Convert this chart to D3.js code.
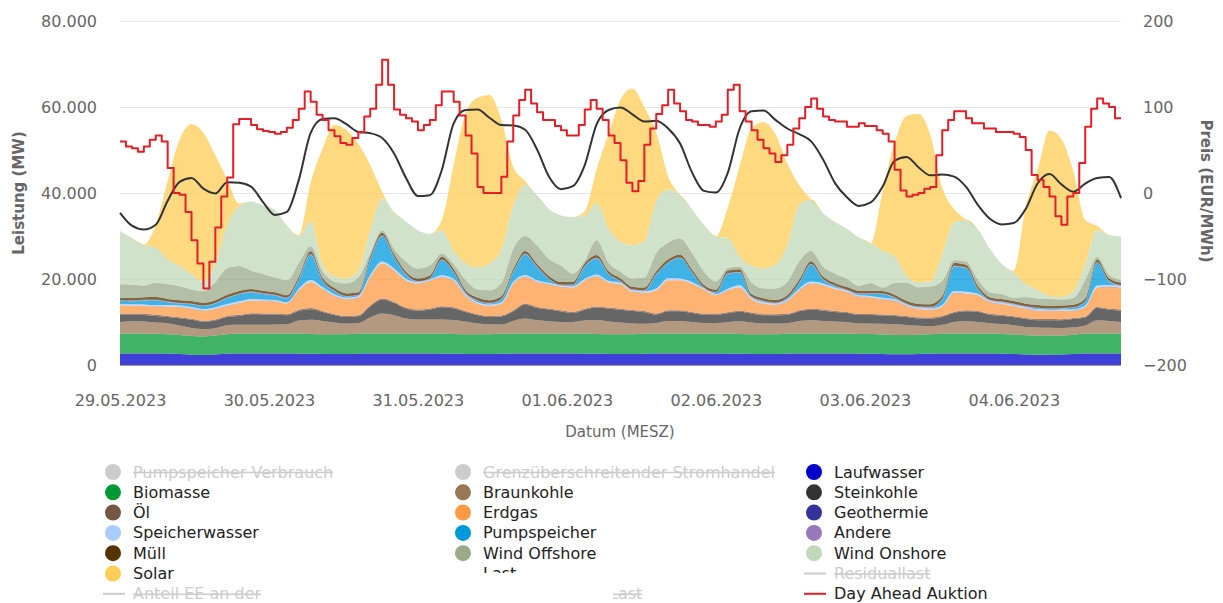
<!DOCTYPE html>
<html>
<head>
<meta charset="utf-8">
<script src="https://cdn.jsdelivr.net/npm/d3@7"></script>
<style>
body{margin:0;background:#fff;}
</style>
</head>
<body>
<div id="chart"></div>
<script>
// Stromerzeugung und Day-Ahead-Preis, 29.05.2023 - 04.06.2023
// areas: 2 h samples (one row = one day, last value = 05.06 00:00)

var laufwasser=[
 2700,2700,2650,2650,2600,2550,2400,2350,2450,2600,2650,2650,
 2650,2650,2650,2600,2600,2550,2550,2550,2600,2650,2650,2650,
 2650,2650,2650,2600,2600,2550,2550,2550,2600,2650,2650,2650,
 2650,2650,2650,2600,2600,2550,2550,2550,2600,2650,2650,2650,
 2650,2650,2650,2600,2600,2550,2550,2550,2600,2650,2650,2650,
 2650,2650,2600,2600,2550,2500,2500,2550,2600,2650,2650,2650,
 2650,2650,2600,2550,2450,2400,2400,2450,2550,2650,2650,2650,
 2650];
var biomasse=[
 4600,4600,4600,4600,4550,4450,4350,4300,4400,4550,4600,4600,
 4600,4650,4650,4650,4600,4600,4600,4600,4650,4650,4650,4650,
 4650,4650,4650,4650,4600,4600,4600,4600,4650,4650,4650,4650,
 4650,4650,4650,4650,4600,4600,4600,4600,4650,4650,4650,4650,
 4650,4650,4650,4650,4600,4600,4600,4600,4650,4650,4650,4650,
 4650,4650,4600,4600,4550,4500,4500,4500,4550,4600,4650,4650,
 4650,4600,4600,4550,4450,4400,4400,4400,4500,4600,4650,4650,
 4650];
var braunkohle=[
 2710,2870,2870,2640,2560,2170,1860,1710,1710,2090,2090,2090,
 2090,2090,2170,3100,3330,3100,2710,2480,2480,3800,4650,4260,
 3490,3260,3260,3330,3260,2950,2480,2330,2170,2950,3490,3100,
 2900,2710,2710,3100,3260,2950,2710,2480,2330,2480,2950,2950,
 2710,2480,2480,2710,2950,2710,2480,2480,2480,2950,3100,2950,
 2800,2710,2480,2480,2480,2480,2330,2090,1860,2090,2710,2950,
 2710,2480,2330,2170,1940,1940,1860,1710,1710,1940,3100,2950,
 2710];
var steinkohle=[
 1690,1530,1530,1530,1460,1690,1920,1690,1770,1920,2080,2460,
 2400,2310,2080,2230,2460,2080,1690,1530,1600,2500,3240,2850,
 2310,2080,2310,2850,2700,2230,1920,1690,1840,2230,3240,2850,
 2700,2460,2080,2460,2900,3000,3000,2900,2700,1920,2230,2230,
 2080,1920,1920,2080,2230,2080,1920,1920,1920,2230,2460,2390,
 2200,2080,1920,1920,1920,1920,1840,1690,1770,1840,2080,2230,
 2310,1920,1920,1840,1840,1690,1770,1840,1920,1840,2850,2620,
 2620];
var oel=[
 250,250,250,250,250,250,250,250,250,250,250,250,
 250,250,250,250,250,250,250,250,250,250,250,250,
 250,250,250,250,250,250,250,250,250,250,250,250,
 250,250,250,250,250,250,250,250,250,250,250,250,
 250,250,250,250,250,250,250,250,250,250,250,250,
 250,250,250,250,250,250,250,250,250,250,250,250,
 250,250,250,250,250,250,250,250,250,250,250,250,
 250];
var erdgas=[
 1940,1860,1860,1940,2170,2330,2330,2330,2480,2330,2710,2950,
 2900,2870,2480,4500,6050,5120,4260,3880,4030,6590,8140,7370,
 6360,6050,6430,6750,6200,3490,2480,2330,2710,6200,6200,5810,
 5600,5430,5660,6590,6980,5810,5660,4260,4260,5430,6980,6980,
 6590,5580,4260,5040,5430,3100,2480,2170,2950,4650,5810,5660,
 5100,4650,4030,3880,3490,3260,2330,1940,1860,2170,4420,3880,
 3640,2710,2480,2330,2170,1940,1860,1940,1710,2170,4500,5040,
 5120];
var geothermie=[
 25,25,25,25,25,25,25,25,25,25,25,25,
 25,25,25,25,25,25,25,25,25,25,25,25,
 25,25,25,25,25,25,25,25,25,25,25,25,
 25,25,25,25,25,25,25,25,25,25,25,25,
 25,25,25,25,25,25,25,25,25,25,25,25,
 25,25,25,25,25,25,25,25,25,25,25,25,
 25,25,25,25,25,25,25,25,25,25,25,25,
 25];
var speicherwasser=[
 300,300,300,300,350,350,350,350,350,400,400,350,
 300,300,300,400,450,400,350,350,350,450,450,400,
 350,300,300,400,400,350,300,300,350,400,450,400,
 350,300,300,400,450,400,350,300,350,400,450,400,
 350,300,300,400,450,350,300,300,350,400,450,400,
 350,300,300,300,350,350,300,300,300,350,400,400,
 350,300,300,300,300,300,300,300,300,350,450,400,
 350];
var pumpspeicher=[
 700,700,940,1100,630,480,630,700,860,1400,1640,1560,
 1300,1020,860,2030,5900,1400,700,240,170,3580,5900,2650,
 860,90,170,3500,1500,240,320,240,630,2180,4740,3030,
 800,50,240,2800,3700,1500,240,90,90,3190,3580,4740,
 2180,50,240,3420,2960,90,170,50,240,1250,3960,860,
 300,50,320,480,860,320,90,90,170,1250,5750,5510,
 1020,90,90,90,90,240,170,170,320,860,5280,860,
 50];
var andere=[
 150,150,150,150,150,150,150,150,150,150,150,150,
 150,150,150,150,150,150,150,150,150,150,150,150,
 150,150,150,150,150,150,150,150,150,150,150,150,
 150,150,150,150,150,150,150,150,150,150,150,150,
 150,150,150,150,150,150,150,150,150,150,150,150,
 150,150,150,150,150,150,150,150,150,150,150,150,
 150,150,150,150,150,150,150,150,150,150,150,150,
 150];
var muell=[
 600,600,600,600,600,600,600,600,600,600,600,600,
 600,600,600,650,650,600,600,600,600,650,650,600,
 600,600,600,650,650,600,600,600,600,650,650,600,
 600,600,600,650,650,600,600,600,600,650,650,600,
 600,600,600,650,650,600,600,600,600,650,650,600,
 600,600,600,600,600,600,600,600,600,650,650,600,
 600,600,600,600,600,600,600,600,600,650,650,600,
 600];
var windOffshore=[
 3100,3100,2710,3330,3490,3260,2710,2710,4260,6200,5810,4260,
 3900,3490,3490,3100,1160,1550,1550,2330,3490,780,600,1160,
 2330,2330,2330,780,1160,2330,1940,2330,3100,4650,3490,4260,
 4000,3880,1940,600,3490,1940,1550,1940,2330,4260,3880,3880,
 3880,3100,1940,600,600,2710,2330,2710,3100,4260,2330,2330,
 2200,1940,1160,1780,780,2710,4260,3880,4110,3490,600,780,
 1550,1160,1160,780,1550,1550,1550,1400,1550,4260,600,780,
 600];
var windOnshore=[
 12400,10850,9460,8140,5810,4650,3490,2330,4260,10080,13960,16050,
 16000,15660,12790,6200,5810,1550,1160,1160,1550,5430,7370,8530,
 9300,8920,7370,5430,3100,3880,5040,6200,7750,10080,12020,11630,
 11600,11630,13180,10470,8500,8000,6980,7750,8530,12020,12400,10080,
 10080,10850,10470,6980,2330,3880,4650,5430,8530,13180,12020,12400,
 12000,11630,11240,9300,8530,6200,1550,1160,1160,6200,8920,9690,
 11630,10080,6980,5810,3100,1940,780,540,1550,3880,6200,9300,
 10080];
var solar=[
 0,0,0,5400,18200,29500,35000,34500,25200,10500,600,0,
 0,0,0,300,9000,27000,35300,34500,29500,15000,1500,0,
 0,0,0,2300,20000,34900,39500,39200,30200,9000,800,0,
 0,0,0,1000,8000,22000,33000,36400,31100,16000,3000,0,
 0,0,0,7000,21000,32000,34000,30500,19000,4500,0,0,
 0,0,0,0,14000,26400,37200,39200,34100,15500,3000,0,
 0,0,0,500,17800,27900,38400,36800,27900,10100,1000,0,
 0];
var last=[
 35400,32400,31500,32600,38200,42600,43500,41000,39900,42500,42400,41500,
 37900,34900,35600,43000,54000,57200,57400,56000,54200,53900,52800,49200,
 43500,39300,39500,45300,56200,59300,59400,57500,55800,55700,54700,50100,
 43800,40900,41600,46500,56000,59300,59900,58300,56600,56800,55000,51500,
 44800,40500,40100,44700,55000,59000,59160,57000,55000,53700,52000,47800,
 42300,39000,37000,37800,41500,47500,48400,46000,44100,44300,43800,41400,
 37200,34000,32700,33000,36300,42200,44400,42000,40300,42200,43500,43700,
 38800];

// Day Ahead Auktion, EUR/MWh, hourly (one row = one day)
var dayAhead=[
 60,54,52,48,54,62,67,60,29,0,-2,-22,-55,-82,-111,-80,-40,-4,18,80,86,86,79,74,
 72,71,69,71,76,85,98,118,106,91,85,73,66,58,56,64,71,89,98,126,155,126,97,91,
 87,83,73,79,85,102,118,118,106,90,67,46,7,0,0,0,19,60,90,108,120,104,94,85,
 85,78,73,67,67,79,97,108,98,85,67,58,38,12,2,14,56,75,92,102,120,104,95,85,
 83,79,79,77,83,91,120,126,95,83,73,62,52,46,36,44,56,75,87,100,110,98,89,85,
 83,83,77,77,81,78,78,73,69,60,27,3,-4,-2,0,5,7,44,73,85,95,95,87,81,
 81,75,75,71,71,71,69,65,50,21,15,7,-4,-27,-37,-4,0,35,77,98,110,104,100,87];

var leftTicks=[0,20000,40000,60000,80000];
var rightTicks=[-200,-100,0,100,200];
var dateTicks=[0,25,50,75,100,125,150]; // hours after 29.05.2023 00:00

var stackKeys=["Laufwasser","Biomasse","Braunkohle","Steinkohle","Öl","Erdgas","Geothermie",
               "Speicherwasser","Pumpspeicher","Andere","Müll","Wind Offshore","Wind Onshore","Solar"];
var stackValues=[laufwasser,biomasse,braunkohle,steinkohle,oel,erdgas,geothermie,
                 speicherwasser,pumpspeicher,andere,muell,windOffshore,windOnshore,solar];
var colors={"Laufwasser":"#0000cc","Biomasse":"#009933","Braunkohle":"#997755","Steinkohle":"#333333",
            "Öl":"#775544","Erdgas":"#ff9944","Geothermie":"#333399","Speicherwasser":"#aaccff",
            "Pumpspeicher":"#0099dd","Andere":"#9977bb","Müll":"#553300","Wind Offshore":"#99aa88",
            "Wind Onshore":"#c0d8b8","Solar":"#ffcc55","Last":"#333333","Day Ahead Auktion":"#e41e26"};

var width=1223, height=603;
var plotLeft=120, plotRight=1121, plotTop=21, plotBottom=365;
var startDate=new Date(2023,4,29,0,0);

var x=d3.scaleLinear().domain([0,168]).range([plotLeft,plotRight]);
var yL=d3.scaleLinear().domain([0,80000]).range([plotBottom,plotTop]);
var yR=d3.scaleLinear().domain([-200,200]).range([plotBottom,plotTop]);

var de=d3.formatLocale({decimal:",",thousands:".",grouping:[3],currency:["","\u00a0€"]});

var svg=d3.select("#chart").append("svg")
    .attr("width",width).attr("height",height)
    .style("font-family","'DejaVu Sans',Verdana,sans-serif");

// grid
svg.append("g").selectAll("line").data(leftTicks.slice(1)).join("line")
    .attr("x1",plotLeft).attr("x2",plotRight)
    .attr("y1",d=>Math.round(yL(d))+0.5).attr("y2",d=>Math.round(yL(d))+0.5)
    .attr("stroke","#e6e6e6").attr("stroke-width",1);

// stacked areas
var rows=d3.range(0,169,2).map(function(h,i){
    var r={h:h};
    stackKeys.forEach(function(k,j){ r[k]=stackValues[j][i]; });
    return r;
});
var series=d3.stack().keys(stackKeys)(rows);
var area=d3.area()
    .x(d=>x(d.data.h))
    .y0(d=>yL(d[0]))
    .y1(d=>yL(d[1]))
    .curve(d3.curveMonotoneX);
svg.append("g").selectAll("path").data(series).join("path")
    .attr("d",area)
    .attr("fill",d=>colors[d.key])
    .attr("fill-opacity",0.75)
    .attr("stroke","none");

// Last
var lastLine=d3.line().x((d,i)=>x(i*2)).y(d=>yL(d)).curve(d3.curveMonotoneX);
svg.append("path").attr("d",lastLine(last))
    .attr("fill","none").attr("stroke",colors["Last"]).attr("stroke-width",2);

// Day Ahead (step)
var pricePts=dayAhead.map((p,i)=>({h:i,p:p}));
pricePts.push({h:168,p:dayAhead[dayAhead.length-1]});
var priceLine=d3.line().x(d=>x(d.h)).y(d=>yR(d.p)).curve(d3.curveStepAfter);
svg.append("path").attr("d",priceLine(pricePts))
    .attr("fill","none").attr("stroke",colors["Day Ahead Auktion"]).attr("stroke-width",2)
    .attr("stroke-linejoin","round");

// x axis line
svg.append("line").attr("x1",plotLeft).attr("x2",plotRight)
    .attr("y1",plotBottom+0.5).attr("y2",plotBottom+0.5)
    .attr("stroke","#999").attr("stroke-width",1);

// axes
var gL=svg.append("g").attr("transform","translate("+plotLeft+",0)")
    .call(d3.axisLeft(yL).tickValues(leftTicks).tickFormat(de.format(",")).tickSize(0).tickPadding(23));
var gR=svg.append("g").attr("transform","translate("+plotRight+",0)")
    .call(d3.axisRight(yR).tickValues(rightTicks).tickFormat(d3.format("d")).tickSize(0).tickPadding(22));
var fmtDate=d3.timeFormat("%d.%m.%Y");
var gX=svg.append("g").attr("transform","translate(0,"+plotBottom+")")
    .call(d3.axisBottom(x).tickValues(dateTicks)
        .tickFormat(h=>fmtDate(new Date(startDate.getTime()+h*3600000)))
        .tickSize(0).tickPadding(30));
[gL,gR,gX].forEach(function(g){
    g.select(".domain").remove();
    g.selectAll("text").attr("fill","#666").style("font-size","16px")
        .style("font-family","'DejaVu Sans',Verdana,sans-serif");
});

// axis titles
svg.append("text").attr("transform","translate(24,193) rotate(-90)")
    .attr("text-anchor","middle").attr("fill","#666")
    .style("font-size","15px").style("font-weight","bold").text("Leistung (MW)");
svg.append("text").attr("transform","translate(1201,191) rotate(90)")
    .attr("text-anchor","middle").attr("fill","#666")
    .style("font-size","15px").style("font-weight","bold").text("Preis (EUR/MWh)");
svg.append("text").attr("x",620).attr("y",437)
    .attr("text-anchor","middle").attr("fill","#666")
    .style("font-size","15px").text("Datum (MESZ)");

// legend
var legendItems=[
 {name:"Pumpspeicher Verbrauch",kind:"dot",color:"#cccccc",hidden:true},
 {name:"Grenzüberschreitender Stromhandel",kind:"dot",color:"#cccccc",hidden:true},
 {name:"Laufwasser",kind:"dot"},
 {name:"Biomasse",kind:"dot"},{name:"Braunkohle",kind:"dot"},{name:"Steinkohle",kind:"dot"},
 {name:"Öl",kind:"dot"},{name:"Erdgas",kind:"dot"},{name:"Geothermie",kind:"dot"},
 {name:"Speicherwasser",kind:"dot"},{name:"Pumpspeicher",kind:"dot"},{name:"Andere",kind:"dot"},
 {name:"Müll",kind:"dot"},{name:"Wind Offshore",kind:"dot"},{name:"Wind Onshore",kind:"dot"},
 {name:"Solar",kind:"dot"},
 {name:"Last",kind:"none",clip:"top"},
 {name:"Residuallast",kind:"line",color:"#cccccc",hidden:true},
 {name:"Anteil EE an der",kind:"line",color:"#cccccc",hidden:true},
 {name:"Last",kind:"none",hidden:true,clip:"left",dx:126},
 {name:"Day Ahead Auktion",kind:"line"}
];
var colX=[113,463,814], rowY0=472, rowStep=20.3;
var defs=svg.append("defs");
defs.append("clipPath").attr("id","clipTop").append("rect")
    .attr("x",470).attr("y",560).attr("width",120).attr("height",13);
defs.append("clipPath").attr("id","clipLeft").append("rect")
    .attr("x",613).attr("y",580).attr("width",120).attr("height",23);

var legend=svg.append("g").style("font-size","16px");
legendItems.forEach(function(it,i){
    var cx=colX[i%3], cy=rowY0+Math.floor(i/3)*rowStep;
    var col=it.color||colors[it.name];
    var g=legend.append("g");
    if (it.clip=="top") g.attr("clip-path","url(#clipTop)");
    if (it.clip=="left") g.attr("clip-path","url(#clipLeft)");
    if (it.kind=="dot"){
        g.append("circle").attr("cx",cx).attr("cy",cy).attr("r",8).attr("fill",col);
    } else if (it.kind=="line"){
        g.append("line").attr("x1",cx-10).attr("x2",cx+12).attr("y1",cy).attr("y2",cy)
            .attr("stroke",col).attr("stroke-width",2);
    }
    g.append("text").attr("x",cx+20+(it.dx||0)).attr("y",cy+5.5)
        .attr("fill",it.hidden?"#cccccc":"#222222")
        .style("text-decoration",it.hidden?"line-through":"none")
        .text(it.name);
});
</script>
</body>
</html>
